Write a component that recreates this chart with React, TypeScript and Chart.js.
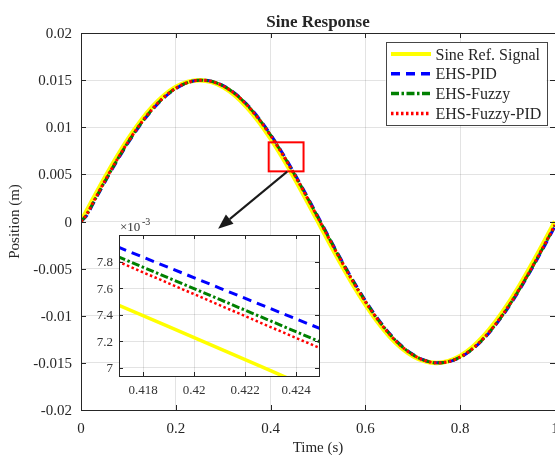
import React, { useEffect, useRef } from 'react';
import { Chart, registerables } from 'chart.js';

Chart.register(...registerables);

// ---------------- data ----------------
const timeS = [0, 0.0125, 0.025, 0.05, 0.075, 0.1, 0.125, 0.15, 0.175, 0.2, 0.225, 0.25, 0.275, 0.3, 0.325, 0.35, 0.375, 0.4, 0.425, 0.45, 0.475, 0.5, 0.525, 0.55, 0.575, 0.6, 0.625, 0.65, 0.675, 0.7, 0.725, 0.75, 0.775, 0.8, 0.825, 0.85, 0.875, 0.9, 0.925, 0.95, 0.975, 1.0];

const sineRef = [0, 0.001177,
  0.002346, 0.004635, 0.006810, 0.008817, 0.010607, 0.012135, 0.013365, 0.014266, 0.014815, 0.015,
  0.014815, 0.014266, 0.013365, 0.012135, 0.010607, 0.008817, 0.006810, 0.004635, 0.002346, 0,
  -0.002346, -0.004635, -0.006810, -0.008817, -0.010607, -0.012135, -0.013365, -0.014266, -0.014815, -0.015,
  -0.014815, -0.014266, -0.013365, -0.012135, -0.010607, -0.008817, -0.006810, -0.004635, -0.002346, 0];

const ehsPid = [0, 0.000654,
  0.001828, 0.004135, 0.006339, 0.008388, 0.010230, 0.011820, 0.013119, 0.014095, 0.014724, 0.014991,
  0.014888, 0.014419, 0.013595, 0.012436, 0.010970, 0.009235, 0.007272, 0.005130, 0.002862, 0.000524,
  -0.001828, -0.004135, -0.006339, -0.008388, -0.010230, -0.011820, -0.013119, -0.014095, -0.014724, -0.014991,
  -0.014888, -0.014419, -0.013595, -0.012436, -0.010970, -0.009235, -0.007272, -0.005130, -0.002862, -0.000524];

const ehsFuzzy = [0, 0.000746,
  0.001919, 0.004223, 0.006422, 0.008464, 0.010297, 0.011876, 0.013163, 0.014126, 0.014742, 0.014994,
  0.014877, 0.014393, 0.013556, 0.012384, 0.010908, 0.009163, 0.007192, 0.005044, 0.002772, 0.000432,
  -0.001919, -0.004223, -0.006422, -0.008464, -0.010297, -0.011876, -0.013163, -0.014126, -0.014742, -0.014994,
  -0.014877, -0.014393, -0.013556, -0.012384, -0.010908, -0.009163, -0.007192, -0.005044, -0.002772, -0.000432];

const ehsFuzzyPid = [0, 0.000798,
  0.001971, 0.004273, 0.006470, 0.008507, 0.010335, 0.011908, 0.013189, 0.014144, 0.014751, 0.014995,
  0.014870, 0.014379, 0.013533, 0.012355, 0.010872, 0.009121, 0.007146, 0.004995, 0.002721, 0.000380,
  -0.001971, -0.004273, -0.006470, -0.008507, -0.010335, -0.011908, -0.013189, -0.014144, -0.014751, -0.014995,
  -0.014870, -0.014379, -0.013533, -0.012355, -0.010872, -0.009121, -0.007146, -0.004995, -0.002721, -0.000380];

// zoomed inset (values in units of 1e-3 m)
const zoomTime = [0.417, 0.419, 0.421, 0.423, 0.425];
const zoomRef = [7.473, 7.309, 7.143, 6.977, 6.810];
const zoomPid = [7.910, 7.755, 7.600, 7.445, 7.290];
const zoomFuzzy = [7.838, 7.676, 7.514, 7.352, 7.190];
const zoomFuzzyPid = [7.800, 7.636, 7.471, 7.306, 7.142];

const seriesNames = ['Sine Ref. Signal', 'EHS-PID', 'EHS-Fuzzy', 'EHS-Fuzzy-PID'];

const xTicks = [0, 0.2, 0.4, 0.6, 0.8, 1];
const xTickLabels = ['0', '0.2', '0.4', '0.6', '0.8', '1'];
const yTicks = [0.02, 0.015, 0.01, 0.005, 0, -0.005, -0.01, -0.015, -0.02];
const yTickLabels = ['0.02', '0.015', '0.01', '0.005', '0', '-0.005', '-0.01', '-0.015', '-0.02'];

const zoomXTicks = [0.418, 0.42, 0.422, 0.424];
const zoomXTickLabels = ['0.418', '0.42', '0.422', '0.424'];
const zoomYTicks = [7, 7.2, 7.4, 7.6, 7.8];
const zoomYTickLabels = ['7', '7.2', '7.4', '7.6', '7.8'];

const titleText = 'Sine Response';
const xTitle = 'Time (s)';
const yTitle = 'Position (m)';

// ---------------- styles ----------------
const FONT = "'Liberation Serif', 'Times New Roman', serif";
const AXIS = '#262626';
const GRID = 'rgba(38,38,38,0.13)';
const styles = [
  { color: '#FFFF00', width: 4.5, dash: [] as number[], zw: 3.5 },
  { color: '#0000FF', width: 3, dash: [9, 6], zw: 3 },
  { color: '#008000', width: 3, dash: [8, 2.5, 2.5, 2.5], zw: 3 },
  { color: '#FF0000', width: 3, dash: [2.5, 2.5], zw: 2.5 },
];

function tickMarks(ctx: CanvasRenderingContext2D, chart: any, len: number) {
  const { left, right, top, bottom } = chart.chartArea;
  const xs = chart.scales.x, ys = chart.scales.y;
  ctx.strokeStyle = AXIS;
  ctx.lineWidth = 1;
  ctx.beginPath();
  xs.ticks.forEach((t: any) => {
    const px = Math.round(xs.getPixelForValue(t.value)) + 0.5;
    ctx.moveTo(px, bottom); ctx.lineTo(px, bottom - len);
    ctx.moveTo(px, top); ctx.lineTo(px, top + len);
  });
  ys.ticks.forEach((t: any) => {
    const py = Math.round(ys.getPixelForValue(t.value)) + 0.5;
    ctx.moveTo(left, py); ctx.lineTo(left + len, py);
    ctx.moveTo(right, py); ctx.lineTo(right - len, py);
  });
  ctx.stroke();
  ctx.strokeRect(Math.round(left) + 0.5, Math.round(top) + 0.5, Math.round(right - left), Math.round(bottom - top));
}

const mainDecor = {
  id: 'mainDecor',
  afterDraw(chart: any) {
    const ctx: CanvasRenderingContext2D = chart.ctx;
    const { left, right, top, bottom } = chart.chartArea;
    const xs = chart.scales.x, ys = chart.scales.y;
    ctx.save();
    tickMarks(ctx, chart, 5);
    ctx.fillStyle = AXIS;
    ctx.font = `15px ${FONT}`;
    ctx.textBaseline = 'alphabetic';
    ctx.textAlign = 'right';
    yTicks.forEach((v, i) => ctx.fillText(yTickLabels[i], left - 9, ys.getPixelForValue(v) + 5));
    ctx.textAlign = 'center';
    xTicks.forEach((v, i) => ctx.fillText(xTickLabels[i], xs.getPixelForValue(v), bottom + 23));
    ctx.fillText(xTitle, (left + right) / 2, bottom + 42);
    ctx.save();
    ctx.translate(19, (top + bottom) / 2);
    ctx.rotate(-Math.PI / 2);
    ctx.fillText(yTitle, 0, 0);
    ctx.restore();
    ctx.font = `bold 17px ${FONT}`;
    ctx.fillText(titleText, (left + right) / 2, top - 6.5);

    // zoom marker rectangle
    const rx0 = xs.getPixelForValue(0.396), rx1 = xs.getPixelForValue(0.4695);
    const ry0 = ys.getPixelForValue(0.0084), ry1 = ys.getPixelForValue(0.00532);
    ctx.strokeStyle = '#FF0000';
    ctx.lineWidth = 2;
    ctx.strokeRect(rx0, ry0, rx1 - rx0, ry1 - ry0);

    // arrow
    const ax0 = xs.getPixelForValue(0.435), ay0 = ys.getPixelForValue(0.00529);
    const ax1 = xs.getPixelForValue(0.2893), ay1 = ys.getPixelForValue(-0.00076);
    const ang = Math.atan2(ay1 - ay0, ax1 - ax0);
    const hl = 15, hw = 6;
    const bx = ax1 - hl * Math.cos(ang), by = ay1 - hl * Math.sin(ang);
    ctx.strokeStyle = '#1a1a1a';
    ctx.fillStyle = '#1a1a1a';
    ctx.lineWidth = 2;
    ctx.beginPath();
    ctx.moveTo(ax0, ay0); ctx.lineTo(bx, by);
    ctx.stroke();
    ctx.beginPath();
    ctx.moveTo(ax1, ay1);
    ctx.lineTo(bx + hw * Math.sin(ang), by - hw * Math.cos(ang));
    ctx.lineTo(bx - hw * Math.sin(ang), by + hw * Math.cos(ang));
    ctx.closePath();
    ctx.fill();

    // legend
    const lw = 161, lh = 83;
    const lx = right - 8.5 - lw, ly = top + 9;
    ctx.fillStyle = '#ffffff';
    ctx.fillRect(lx, ly, lw, lh);
    ctx.strokeStyle = 'rgba(38,38,38,0.85)';
    ctx.lineWidth = 1;
    ctx.strokeRect(Math.round(lx) + 0.5, Math.round(ly) + 0.5, lw, lh);
    ctx.font = `16px ${FONT}`;
    ctx.textAlign = 'left';
    seriesNames.forEach((name, i) => {
      const yc = ly + 12 + i * 19.8;
      const st = styles[i];
      ctx.strokeStyle = st.color;
      ctx.lineWidth = i === 0 ? 4 : 3.5;
      ctx.setLineDash(st.dash);
      ctx.beginPath();
      ctx.moveTo(lx + 5.5, yc); ctx.lineTo(lx + 45.5, yc);
      ctx.stroke();
      ctx.setLineDash([]);
      ctx.fillStyle = AXIS;
      ctx.fillText(name, lx + 50, yc + 5.5);
    });
    ctx.restore();
  },
};

const insetDecor = {
  id: 'insetDecor',
  beforeDraw(chart: any) {
    const ctx: CanvasRenderingContext2D = chart.ctx;
    const { left, right, top, bottom } = chart.chartArea;
    ctx.save();
    ctx.fillStyle = '#ffffff';
    ctx.fillRect(left, top, right - left, bottom - top);
    ctx.restore();
  },
  afterDraw(chart: any) {
    const ctx: CanvasRenderingContext2D = chart.ctx;
    const { left, top, bottom } = chart.chartArea;
    const xs = chart.scales.x, ys = chart.scales.y;
    ctx.save();
    tickMarks(ctx, chart, 4);
    ctx.fillStyle = '#333333';
    ctx.font = `13px ${FONT}`;
    ctx.textAlign = 'right';
    zoomYTicks.forEach((v, i) => ctx.fillText(zoomYTickLabels[i], left - 6, ys.getPixelForValue(v) + 4.5));
    ctx.textAlign = 'center';
    zoomXTicks.forEach((v, i) => ctx.fillText(zoomXTickLabels[i], xs.getPixelForValue(v), bottom + 18));
    ctx.textAlign = 'left';
    ctx.fillText('\u00d710', left + 1, top - 4);
    ctx.font = `10px ${FONT}`;
    ctx.fillText('-3', left + 23, top - 10);
    ctx.restore();
  },
};

function fixedScale(min: number, max: number, ticks: number[], size: { w?: number; h?: number }) {
  return {
    type: 'linear' as const,
    min,
    max,
    afterBuildTicks: (s: any) => { s.ticks = ticks.map((v) => ({ value: v })); },
    afterFit: (s: any) => {
      if (size.w !== undefined) s.width = size.w;
      if (size.h !== undefined) s.height = size.h;
      s.paddingLeft = 0; s.paddingRight = 0; s.paddingTop = 0; s.paddingBottom = 0;
    },
    ticks: { display: false },
    grid: { color: GRID, drawTicks: false, lineWidth: 1 },
    border: { display: false },
  };
}

export default function App() {
  const mainRef = useRef<HTMLCanvasElement>(null);
  const insetRef = useRef<HTMLCanvasElement>(null);

  useEffect(() => {
    const series = [sineRef, ehsPid, ehsFuzzy, ehsFuzzyPid];
    const main = new Chart(mainRef.current!, {
      type: 'line',
      data: {
        datasets: series.map((vals, i) => ({
          label: seriesNames[i],
          data: timeS.map((t, k) => ({ x: t, y: vals[k] })),
          borderColor: styles[i].color,
          borderWidth: styles[i].width,
          borderDash: styles[i].dash,
          pointRadius: 0,
          fill: false,
          cubicInterpolationMode: 'monotone' as const,
          order: 3 - i,
        })),
      },
      options: {
        animation: false,
        responsive: false,
        devicePixelRatio: 1,
        layout: { padding: { top: 33, left: 0, right: 0, bottom: 0 } },
        plugins: { legend: { display: false }, title: { display: false }, tooltip: { enabled: false } },
        scales: {
          x: fixedScale(0, 1, xTicks, { h: 45 }),
          y: fixedScale(-0.02, 0.02, yTicks, { w: 81 }),
        },
      },
      plugins: [mainDecor],
    });

    const zSeries = [zoomRef, zoomPid, zoomFuzzy, zoomFuzzyPid];
    const inset = new Chart(insetRef.current!, {
      type: 'line',
      data: {
        datasets: zSeries.map((vals, i) => ({
          label: seriesNames[i],
          data: zoomTime.map((t, k) => ({ x: t, y: vals[k] })),
          borderColor: styles[i].color,
          borderWidth: styles[i].zw,
          borderDash: styles[i].dash,
          pointRadius: 0,
          fill: false,
          tension: 0,
          order: 3 - i,
        })),
      },
      options: {
        animation: false,
        responsive: false,
        devicePixelRatio: 1,
        layout: { padding: { top: 23, left: 0, right: 11, bottom: 0 } },
        plugins: { legend: { display: false }, title: { display: false }, tooltip: { enabled: false } },
        scales: {
          x: fixedScale(0.41705, 0.4249, zoomXTicks, { h: 26 }),
          y: fixedScale(6.937, 8.0, zoomYTicks, { w: 49 }),
        },
      },
      plugins: [insetDecor],
    });

    return () => { main.destroy(); inset.destroy(); };
  }, []);

  return (
    <div style={{ position: 'absolute', left: 0, top: 0, width: 555, height: 455, background: '#ffffff', overflow: 'hidden' }}>
      <canvas ref={mainRef} width={555} height={455} style={{ position: 'absolute', left: 0, top: 0, width: 555, height: 455 }} />
      <canvas ref={insetRef} width={260} height={190} style={{ position: 'absolute', left: 70, top: 212, width: 260, height: 190 }} />
    </div>
  );
}
